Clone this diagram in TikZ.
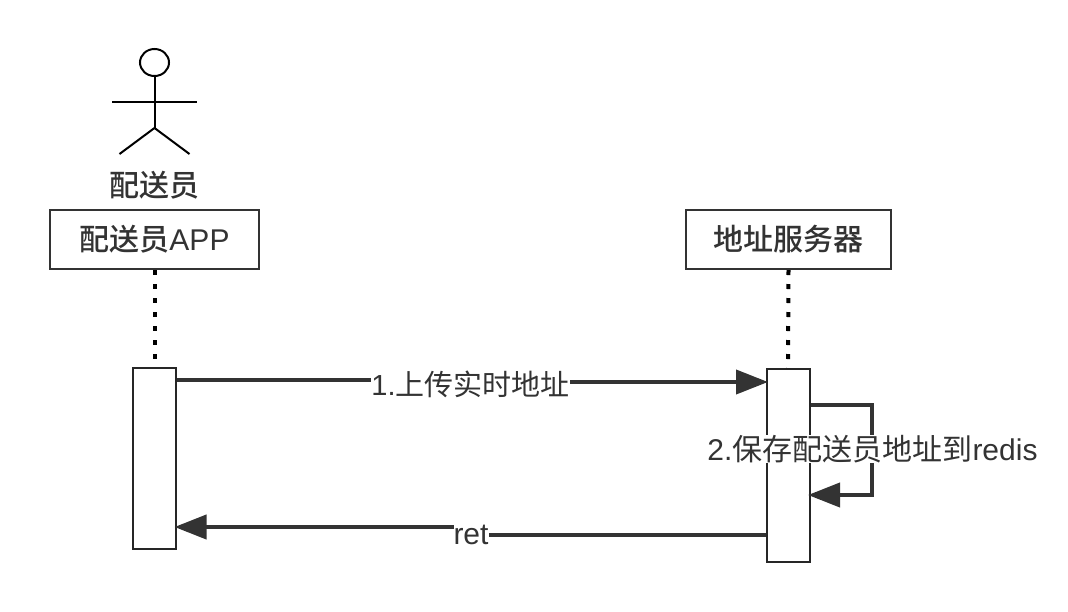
\documentclass[tikz,border=0pt]{standalone}
\usepackage{fontspec}
\setmainfont{Liberation Sans}
\newfontfamily\cjk{Noto Sans CJK SC}
\newfontfamily\cjkm{Noto Sans CJK SC Medium}
\usetikzlibrary{arrows.meta,shapes.geometric}
\definecolor{ink}{HTML}{333333}
\tikzset{
  x=1pt,y=-1pt,
  boxnode/.style={draw=ink,line width=2pt,fill=white,minimum height=59pt,inner sep=0pt,font=\fontsize{30}{32}\selectfont,text=ink},
  barnode/.style={draw=black!85,line width=2pt,fill=white,inner sep=0pt},
  lifeline/.style={line width=4pt,black,dash pattern=on 5pt off 9pt},
  msg/.style={ink,line width=4pt,shorten >=-2.5pt,-{Triangle[length=32pt,width=24pt]}},
  lbl/.style={fill=white,inner sep=0pt,font=\fontsize{30}{32}\selectfont,text=ink},
  actorline/.style={black,line width=2pt}
}
\begin{document}
\begin{tikzpicture}
\useasboundingbox (0,0) rectangle (1068,611);
% actor
\node[draw=black,line width=2pt,ellipse,minimum width=29pt,minimum height=27pt,inner sep=0pt] (head) at (154.5,62.5) {};
\coordinate (hip) at (154.5,128);
\coordinate (handl) at (112,101.5);
\coordinate (handr) at (197,101.5);
\coordinate (footl) at (119.5,154);
\coordinate (footr) at (189.5,154);
\draw[actorline] (head.south) -- (hip);
\draw[actorline] (handl) -- (handr);
\draw[actorline] (footl) -- (hip) -- (footr);
\node[text=ink,inner sep=0pt,font=\fontsize{30}{32}\selectfont] (actorlabel) at (154.5,185) {\cjkm 配送员};
% participants
\node[boxnode,minimum width=209pt] (app) at (154.5,239.5) {\raisebox{-1.5pt}{{\cjkm 配送员}APP}};
\node[boxnode,minimum width=205pt] (srv) at (788.5,239.5) {\raisebox{-1.5pt}{\cjkm 地址服务器}};
% activation bars
\node[barnode,minimum width=43pt,minimum height=181pt] (bara) at (154.5,458.5) {};
\node[barnode,minimum width=43pt,minimum height=193pt] (bars) at (788,465.5) {};
% lifelines
\draw[lifeline] (app.south) -- (bara.north);
\draw[lifeline] (srv.south) -- (bars.north);
% message 1
\coordinate (m1a) at (bara.east |- 0,380);
\coordinate (m1b) at (bars.west |- 0,382);
\draw[msg] (m1a) -- (470,380) -- (470,382) -- (m1b);
\node[lbl,font=\fontsize{29}{32}\selectfont] (m1) at (470.5,384) {1.{\cjk 上传实时地址}};
% message 2
\coordinate (m2a) at (bars.east |- 0,405);
\coordinate (m2b) at (bars.east |- 0,495);
\draw[msg] (m2a) -- (872,405) -- (872,495) -- (m2b);
\node[lbl] (m2) at (872.5,449) {2.{\cjk 保存配送员地址到}redis};
% return
\coordinate (r1a) at (bars.west |- 0,535);
\coordinate (r1b) at (bara.east |- 0,527);
\draw[msg] (r1a) -- (471,535) -- (471,527) -- (r1b);
\node[lbl] (r1) at (471,535) {ret};
\end{tikzpicture}
\end{document}
